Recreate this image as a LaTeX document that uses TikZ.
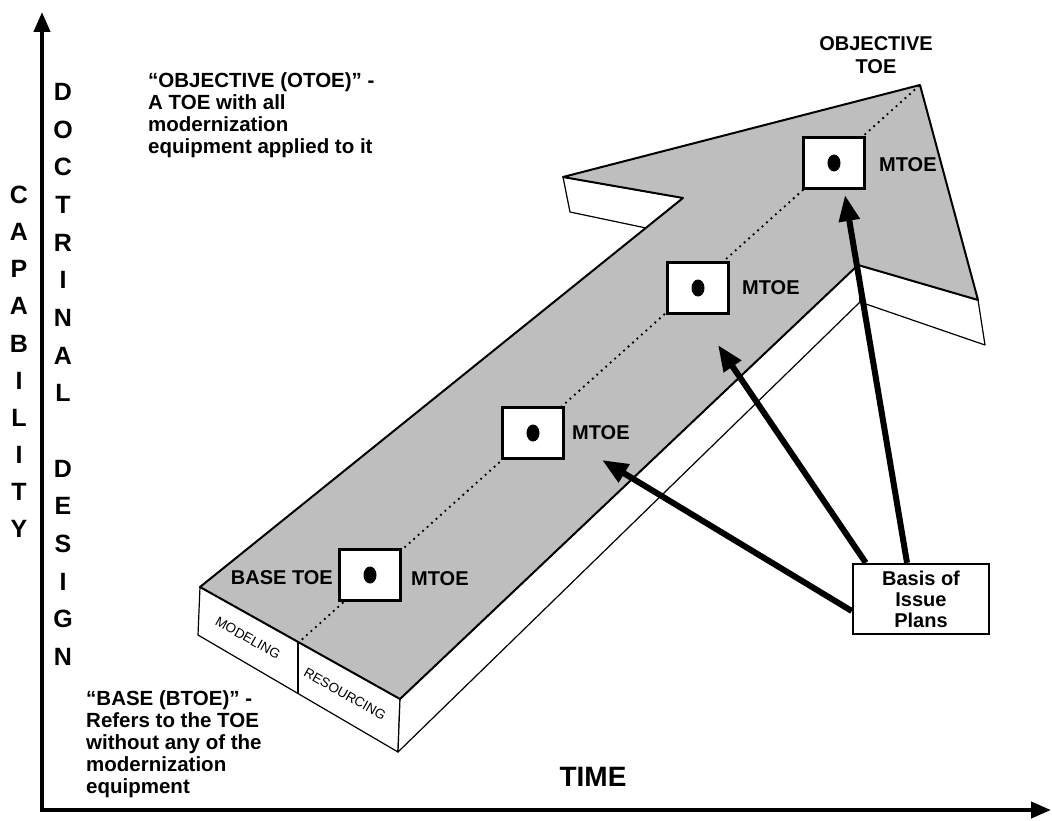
\documentclass[tikz,border=0pt]{standalone}
\usepackage{fontspec}
\setmainfont{Liberation Sans}
\usetikzlibrary{arrows.meta}
\definecolor{facegray}{RGB}{190,190,190}
\begin{document}
\begin{tikzpicture}[x=1pt,y=-1pt,
  axisline/.style={line width=4pt,-{Triangle[length=20pt,width=16pt]}},
  sideface/.style={draw=black,line width=1.2pt,fill=white,line join=round},
  topface/.style={draw=black,line width=2pt,fill=facegray,line join=round},
  tbox/.style={draw=black,line width=3pt,fill=white,minimum width=61pt,minimum height=51pt,inner sep=0pt},
  lbl/.style={font=\bfseries\fontsize{20}{23}\selectfont,inner sep=0pt},
  vlet/.style={font=\bfseries\fontsize{25}{25}\selectfont,inner sep=0pt},
  note/.style={font=\bfseries\fontsize{20.5}{22}\selectfont,inner sep=0pt,align=left},
  facetext/.style={font=\fontsize{13.5}{13.5}\selectfont,inner sep=0pt,rotate=-29.5},
  bigarrow/.style={line width=6pt,-{Triangle[length=26pt,width=20pt]}},
  bipbox/.style={draw=black,line width=2.5pt,fill=white,minimum width=136pt,minimum height=70pt,inner sep=0pt,align=center,font=\bfseries\fontsize{20}{21}\selectfont}
]
\useasboundingbox (0,0) rectangle (1052,821);
\fill[white] (0,0) rectangle (1052,821);

% axes
\coordinate (origin) at (42,810);
\coordinate (ytip) at (42,12);
\coordinate (xstart) at (40,810);
\coordinate (xtip) at (1051,810);
\draw[axisline] (origin) -- (ytip);
\draw[axisline] (xstart) -- (xtip);

% vertical labels
\foreach \l [count=\i] in {C,A,P,A,B,I,L,I,T,Y}
  \node[vlet] (cap\i) at (19,{195+37.1*(\i-1)}) {\l};
\foreach \l [count=\i] in {D,O,C,T,R,I,N,A,L}
  \node[vlet] (doc\i) at (63,{92+37.65*(\i-1)}) {\l};
\foreach \l [count=\i] in {D,E,S,I,G,N}
  \node[vlet] (des\i) at (63,{468.5+37.7*(\i-1)}) {\l};

% 3D arrow: side faces
\coordinate (p1) at (200,587);
\coordinate (p2) at (683,198);
\coordinate (p3) at (563,177);
\coordinate (p4) at (920,85);
\coordinate (p5) at (978,300);
\coordinate (p6) at (858,265);
\coordinate (p7) at (400,699);
\coordinate (q1) at (198,635);
\coordinate (q7) at (398,752);
\coordinate (q6) at (860,302);
\coordinate (q5) at (985,345);
\coordinate (q3) at (570,212);
\coordinate (q2) at (646,228);

\draw[sideface] (p1) -- (p7) -- (q7) -- (q1) -- cycle;
\draw[sideface] (p7) -- (p6) -- (q6) -- (q7) -- cycle;
\draw[sideface] (p6) -- (p5) -- (q5) -- (q6) -- cycle;
\draw[sideface] (p3) -- (p2) -- (q2) -- (q3) -- cycle;
\draw[topface] (p1) -- (p2) -- (p3) -- (p4) -- (p5) -- (p6) -- (p7) -- cycle;

% divider on the front face
\coordinate (d1) at (298,643);
\coordinate (d2) at (298,693);
\draw[line width=1.2pt] (d1) -- (d2);
\node[facetext] (modeling) at (248,638) {MODELING};
\node[facetext] (resourcing) at (345,694) {RESOURCING};

% dotted path
\draw[line width=2.6pt,line cap=round,dash pattern=on 0pt off 6pt] (d1) -- (p4);

% boxes
\node[tbox] (b1) at (370,575) {};
\node[tbox] (b2) at (533,433) {};
\node[tbox] (b3) at (698,288) {};
\node[tbox] (b4) at (834,163) {};
\foreach \b in {b1,b2,b3,b4}
  \fill (\b.center) ellipse [x radius=6.5pt, y radius=8.5pt];

\node[lbl,anchor=east] (basetoe) at (333,578) {BASE TOE};
\node[lbl,anchor=west] (m1) at (411,579) {MTOE};
\node[lbl,anchor=west] (m2) at (572,433) {MTOE};
\node[lbl,anchor=west] (m3) at (742,288) {MTOE};
\node[lbl,anchor=west] (m4) at (879,165) {MTOE};
\node[lbl,align=center] (otoe) at (876,55) {OBJECTIVE\\TOE};

% notes
\node[note,anchor=north west] (objnote) at (148,72) {``OBJECTIVE (OTOE)'' -\\A TOE with all\\modernization\\equipment applied to it};
\node[note,anchor=north west] (basenote) at (86,690) {``BASE (BTOE)'' -\\Refers to the TOE\\without any of the\\modernization\\equipment};
\node[font=\bfseries\fontsize{28}{28}\selectfont,inner sep=0pt] (time) at (593,777) {TIME};

% basis of issue plans
\node[bipbox] (bip) at (921,599) {Basis of\\Issue\\Plans};
\coordinate (ta) at (602,460);
\coordinate (tb) at (718,345);
\coordinate (tc) at (845,195);
\draw[bigarrow] ([yshift=-12pt]bip.west) -- (ta);
\draw[bigarrow] ([xshift=14pt]bip.north west) -- (tb);
\draw[bigarrow] ([xshift=-14pt]bip.north) -- (tc);
\end{tikzpicture}
\end{document}
